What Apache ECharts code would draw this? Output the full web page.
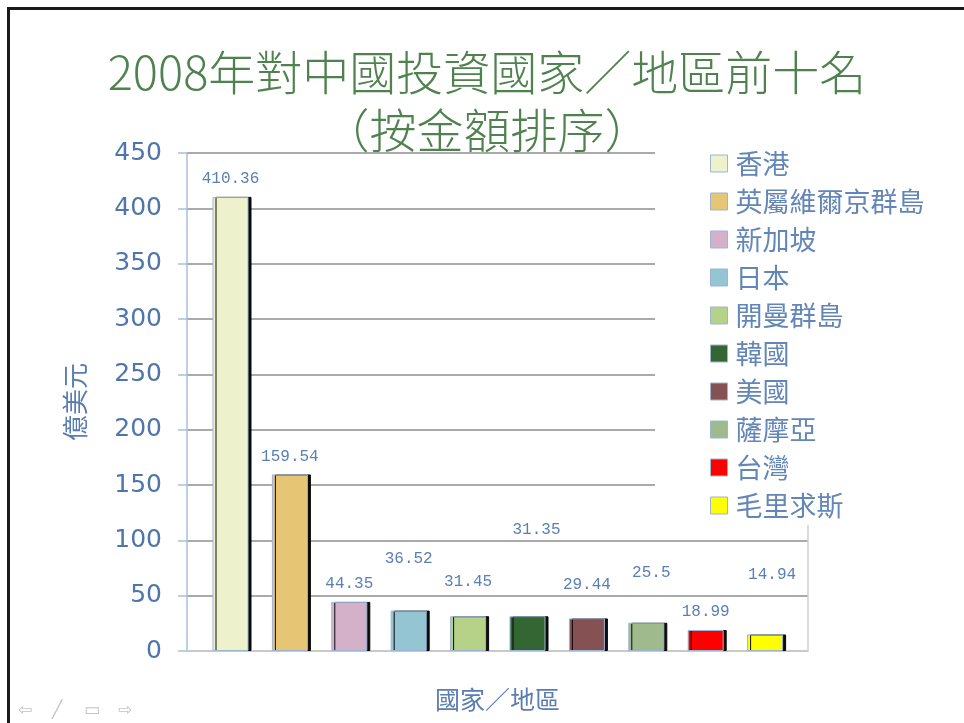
<!DOCTYPE html>
<html>
<head>
<meta charset="utf-8">
<script src="https://cdn.jsdelivr.net/npm/echarts@6/dist/echarts.min.js"></script>
<style>
  html, body { margin: 0; padding: 0; background: #fff; }
  #chart { position: absolute; left: 0; top: 0; width: 964px; height: 723px; }
  #frame { position: absolute; left: 7px; top: 7px; right: 0; bottom: 0;
           border-top: 3px solid #1a1a1a; border-left: 3px solid #1a1a1a; pointer-events: none; }
</style>
</head>
<body>
<div id="chart"></div>
<div id="frame"></div>
<script>
// ---- data ----
const categories = ['香港', '英屬維爾京群島', '新加坡', '日本', '開曼群島', '韓國', '美國', '薩摩亞', '台灣', '毛里求斯'];
const values = [410.36, 159.54, 44.35, 36.52, 31.45, 31.35, 29.44, 25.5, 18.99, 14.94];
const yTicks = { min: 0, max: 450, interval: 50 };
const titleText = '2008年對中國投資國家／地區前十名\n（按金額排序）';
const yName = '億美元';
const xName = '國家／地區';
const navGlyphs = ['⇦', '╱', '▭', '⇨'];

// ---- styles ----
const barColors = ['#eef2cc', '#e6c674', '#d4b1c9', '#93c5d2', '#b6d288', '#336633', '#855152', '#9fbb8d', '#ff0000', '#ffff00'];
const labelNudge = [[0, 0], [0, 0], [0, 0], [0, -34], [0, -16], [9, -69], [0, -16], [5, -32], [0, 0], [7, -42]];
const blue = '#4e76ab';

const chart = echarts.init(document.getElementById('chart'), null, { renderer: 'canvas' });

const series = categories.map((name, i) => ({
  name: name,
  type: 'bar',
  xAxisIndex: 1,
  yAxisIndex: 2,
  barWidth: 36,
  barGap: '-100%',
  data: categories.map((c, j) => (j === i ? values[i] : '-')),
  itemStyle: {
    color: barColors[i],
    borderColor: '#9db5d5',
    borderWidth: 1,
    shadowColor: 'rgba(0,0,0,0.95)',
    shadowOffsetX: 3,
    shadowOffsetY: 0,
    shadowBlur: 0
  },
  label: {
    show: true,
    position: 'top',
    distance: 10,
    offset: labelNudge[i],
    fontFamily: 'Liberation Mono',
    fontSize: 16,
    color: '#5a7fb2'
  },
  emphasis: { disabled: true },
  animation: false
}));

const option = {
  animation: false,
  backgroundColor: '#ffffff',
  title: {
    text: titleText,
    left: 487,
    textAlign: 'center',
    top: 43,
    padding: 0,
    textStyle: {
      fontFamily: 'Noto Sans CJK TC',
      fontSize: 47,
      lineHeight: 58,
      fontWeight: 300,
      color: '#4f824f'
    }
  },
  legend: {
    orient: 'vertical',
    left: 655,
    top: 140,
    padding: [10, 12, 6, 55],
    backgroundColor: '#ffffff',
    itemWidth: 17,
    itemHeight: 17,
    itemGap: 11,
    icon: 'rect',
    data: categories,
    selectedMode: false,
    itemStyle: { borderColor: '#9db5d5', borderWidth: 1, shadowBlur: 0, shadowOffsetX: 0, shadowColor: 'transparent' },
    textStyle: { fontFamily: 'Noto Sans CJK TC', fontSize: 27, lineHeight: 27, color: '#6386b8', padding: [0, 0, 0, 3] }
  },
  grid: [
    { left: 187, right: 156, top: 153, bottom: 72 },
    { left: 200.8, right: 169.2, top: 153, bottom: 72 }
  ],
  xAxis: [
    {
      gridIndex: 0, type: 'value', min: 0, max: 1,
      name: xName, nameLocation: 'middle', nameGap: 36,
      nameTextStyle: { fontFamily: 'Noto Sans CJK TC', fontSize: 25, color: '#5b7eb0' },
      axisLine: { show: true, lineStyle: { color: '#d4d4d4', width: 1.5 } },
      axisTick: { show: false }, axisLabel: { show: false }, splitLine: { show: false }
    },
    {
      gridIndex: 1, type: 'category', data: categories, show: false
    }
  ],
  yAxis: [
    {
      gridIndex: 0, type: 'value', min: yTicks.min, max: yTicks.max, interval: yTicks.interval,
      name: yName, nameLocation: 'middle', nameGap: 99,
      nameTextStyle: { fontFamily: 'Noto Sans CJK TC', fontSize: 26, color: '#5b7eb0' },
      axisLine: { show: true, lineStyle: { color: '#a9bedb', width: 1.5 } },
      axisTick: { show: true, inside: false, length: 9, lineStyle: { color: '#a9bedb', width: 1.5 } },
      axisLabel: { margin: 25, fontFamily: 'DejaVu Sans', fontSize: 25, color: blue },
      splitLine: { show: true, lineStyle: { color: '#8e8e8e', width: 1.5 } }
    },
    {
      gridIndex: 0, type: 'value', position: 'right', min: yTicks.min, max: yTicks.max,
      axisLine: { show: true, lineStyle: { color: '#cfcfcf', width: 1.5 } },
      axisTick: { show: false }, axisLabel: { show: false }, splitLine: { show: false }
    },
    {
      gridIndex: 1, type: 'value', min: yTicks.min, max: yTicks.max, show: false
    }
  ],
  graphic: navGlyphs.map((g, i) => ({
    type: 'text',
    left: [18, 52, 84, 118][i],
    top: 702,
    style: { text: g, fontSize: 17, fill: '#c4c4c4', fontFamily: 'DejaVu Sans' }
  })),
  series: series
};

chart.setOption(option);
</script>
</body>
</html>
